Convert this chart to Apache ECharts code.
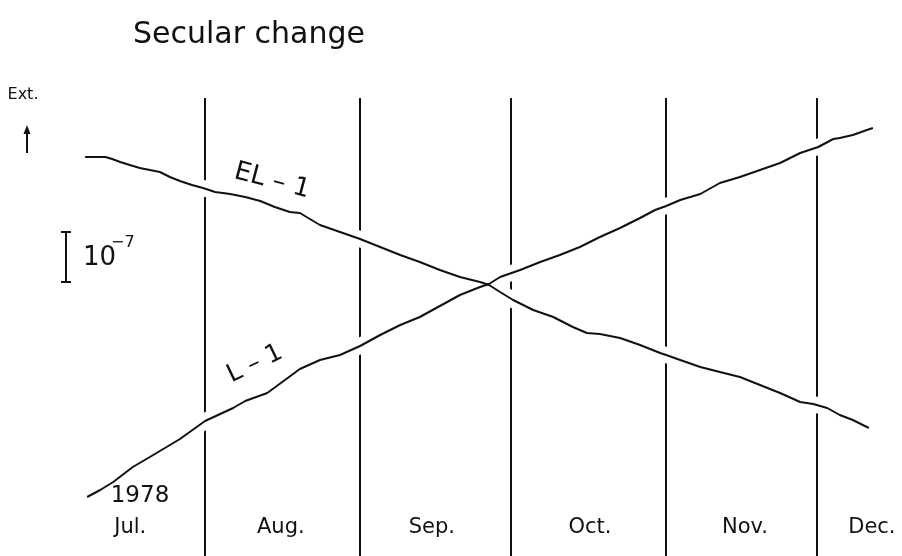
<!DOCTYPE html>
<html>
<head>
<meta charset="utf-8">
<script src="https://cdn.jsdelivr.net/npm/echarts@6/dist/echarts.min.js"></script>
<style>
	html, body { margin: 0; padding: 0; background: #fff; }
	#chart { width: 902px; height: 556px; }
</style>
</head>
<body>
<div id="chart"></div>
<script>
	// x: days since 1 Jul 1978, y: strain in units of 1e-7 (arbitrary offset)
	const months = ['Jul.', 'Aug.', 'Sep.', 'Oct.', 'Nov.', 'Dec.'];
	const monthLabelDay = [16.2, 46.2, 76.3, 107.8, 138.7, 164.0];
	const monthStartDay = [31, 62, 92, 123, 153]; // Aug 1 .. Dec 1
	const monthLineTop = 9.16;

	const el1 = [
		[7.2, 7.98], [9.2, 7.98], [11.2, 7.98], [12.6, 7.94], [14.2, 7.88], [16.1, 7.82],
		[18.1, 7.76], [20.1, 7.72], [22.1, 7.68], [24.1, 7.58], [26.1, 7.50], [28.5, 7.42],
		[30.7, 7.36], [33.1, 7.28], [36.1, 7.24], [39.1, 7.18], [42.1, 7.10], [45.0, 6.98],
		[48.0, 6.88], [50.0, 6.86], [54.0, 6.62], [58.0, 6.48], [62.0, 6.34], [66.0, 6.18],
		[70.0, 6.02], [73.9, 5.88], [77.9, 5.72], [81.9, 5.58], [85.9, 5.48], [87.7, 5.42],
		[89.9, 5.28], [92.5, 5.12], [96.5, 4.92], [100.5, 4.78], [104.4, 4.58], [107.2, 4.46],
		[109.8, 4.44], [113.8, 4.36], [117.8, 4.22], [121.8, 4.06], [123.0, 4.02], [125.8, 3.92],
		[129.8, 3.78], [133.7, 3.68], [137.7, 3.58], [141.7, 3.42], [145.7, 3.26], [149.7, 3.08],
		[152.3, 3.04], [155.1, 2.96], [157.6, 2.82], [160.2, 2.72], [163.4, 2.56]
	];
	const l1 = [
		[7.6, 1.18], [10.2, 1.32], [12.8, 1.48], [16.7, 1.78], [20.1, 1.98], [26.1, 2.34],
		[31.1, 2.70], [36.7, 2.96], [39.1, 3.10], [43.5, 3.26], [50.0, 3.74], [54.0, 3.92],
		[58.0, 4.02], [62.0, 4.20], [66.0, 4.42], [70.0, 4.62], [73.9, 4.78], [77.9, 5.00],
		[81.9, 5.22], [85.9, 5.38], [87.7, 5.44], [89.9, 5.58], [93.9, 5.72], [97.9, 5.88],
		[101.8, 6.02], [105.8, 6.18], [109.8, 6.38], [113.8, 6.56], [117.8, 6.76], [120.8, 6.92],
		[123.0, 7.00], [125.8, 7.12], [129.8, 7.24], [133.7, 7.46], [137.7, 7.58], [141.7, 7.72],
		[145.7, 7.86], [149.7, 8.06], [153.3, 8.18], [156.3, 8.34], [157.6, 8.36], [160.2, 8.42],
		[163.0, 8.52], [164.2, 8.56]
	];

	const ink = '#111';
	const font = 'DejaVu Sans';

	let chart = echarts.init(document.getElementById('chart'));

	const curve = (name, data, halo) => ({
		name: name,
		type: 'line',
		data: data,
		symbol: 'none',
		smooth: false,
		silent: true,
		z: halo ? 3 : 4,
		lineStyle: halo ? {color: '#fff', width: 16} : {color: ink, width: 2}
	});

	const option = {
		animation: false,
		backgroundColor: '#fff',
		grid: {left: 49, right: 0, top: 56, bottom: 0},
		xAxis: {type: 'value', min: 0, max: 170, show: false},
		yAxis: {type: 'value', min: 0, max: 10, show: false},
		series: [
			{
				type: 'line',
				data: [],
				z: 2,
				markLine: {
					z: 2,
					symbol: 'none',
					silent: true,
					label: {show: false},
					lineStyle: {color: ink, width: 2, type: 'solid'},
					data: monthStartDay.map(d => [{coord: [d, 0]}, {coord: [d, monthLineTop]}])
				}
			},
			curve('EL-1 halo', el1, true),
			curve('L-1 halo', l1, true),
			curve('EL-1', el1, false),
			curve('L-1', l1, false)
		]
	};
	chart.setOption(option);

	const txt = (x, y, text, size, extra) => Object.assign({
		type: 'text', x: x, y: y, z: 10,
		style: Object.assign({text: text, fill: ink, font: size + 'px "' + font + '"', align: 'center', verticalAlign: 'middle'}, extra || {})
	});

	let graphics = [
		txt(133, 35, 'Secular change', 30, {align: 'left'}),
		txt(23, 95, 'Ext.', 16),
		{type: 'polygon', z: 10, shape: {points: [[27, 125], [23.5, 134], [30.5, 134]]}, style: {fill: ink}},
		{type: 'line', z: 10, shape: {x1: 27, y1: 132, x2: 27, y2: 153}, style: {stroke: ink, lineWidth: 2}},
		{type: 'line', z: 10, shape: {x1: 66, y1: 232, x2: 66, y2: 282}, style: {stroke: ink, lineWidth: 2}},
		{type: 'line', z: 10, shape: {x1: 61, y1: 232, x2: 71, y2: 232}, style: {stroke: ink, lineWidth: 2}},
		{type: 'line', z: 10, shape: {x1: 61, y1: 282, x2: 71, y2: 282}, style: {stroke: ink, lineWidth: 2}},
		txt(83, 258, '10', 26, {align: 'left'}),
		txt(111, 243, '−7', 16, {align: 'left'}),
		Object.assign(txt(272, 181, 'EL – 1', 26), {rotation: -0.26}),
		Object.assign(txt(255, 364, 'L – 1', 25), {rotation: 0.45}),
		txt(140, 496, '1978', 23)
	];
	months.forEach((m, i) => {
		let p = chart.convertToPixel({gridIndex: 0}, [monthLabelDay[i], 0]);
		graphics.push(txt(p[0], 528, m, 21));
	});
	chart.setOption({graphic: graphics});

	window.addEventListener('resize', () => {
		chart.resize();
	});
</script>
</body>
</html>
